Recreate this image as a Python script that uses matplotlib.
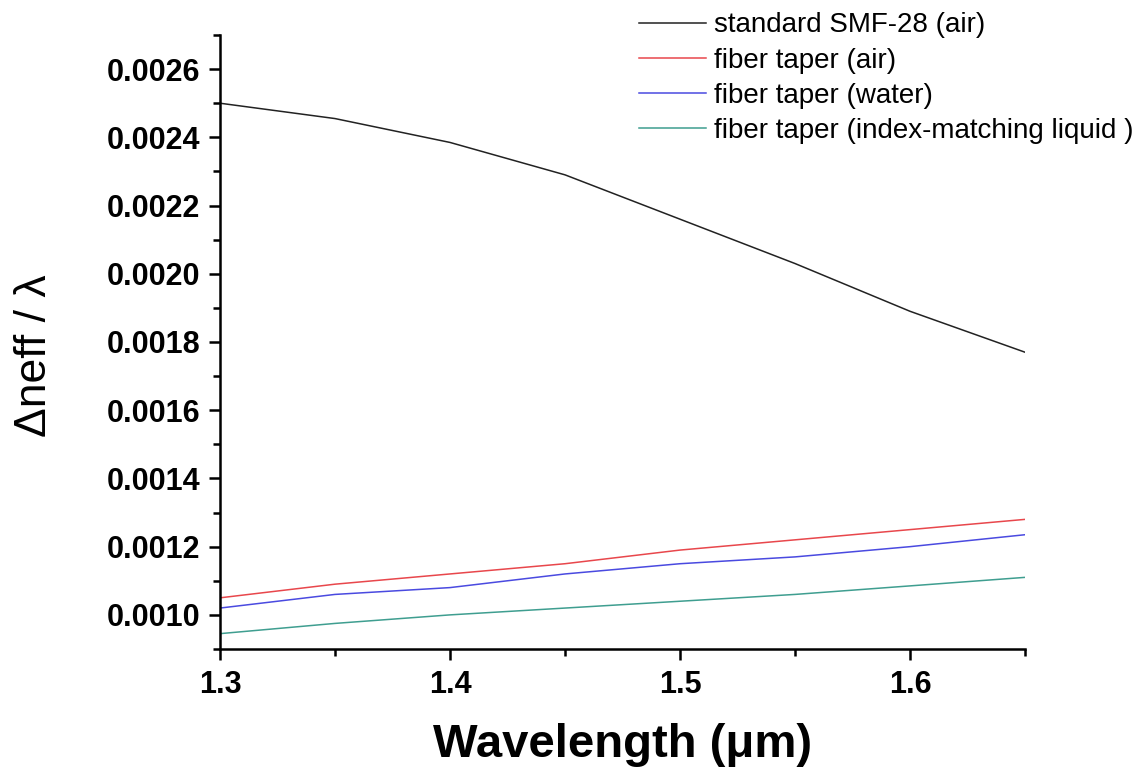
import matplotlib
matplotlib.use("Agg")
import matplotlib.pyplot as plt
from matplotlib.ticker import MultipleLocator, FormatStrFormatter

plt.rcParams['font.family'] = ['Liberation Sans', 'DejaVu Sans']

wavelength = [1.30, 1.35, 1.40, 1.45, 1.50, 1.55, 1.60, 1.65]
smf28_air = [0.00250, 0.002455, 0.002385, 0.00229, 0.00216, 0.00203, 0.00189, 0.00177]
taper_air = [0.00105, 0.00109, 0.00112, 0.00115, 0.00119, 0.00122, 0.00125, 0.00128]
taper_water = [0.00102, 0.00106, 0.00108, 0.00112, 0.00115, 0.00117, 0.00120, 0.001235]
taper_iml = [0.000945, 0.000975, 0.00100, 0.00102, 0.00104, 0.00106, 0.001085, 0.00111]

labels = ["standard SMF-28 (air)", "fiber taper (air)", "fiber taper (water)",
          "fiber taper (index-matching liquid )"]
colors = ["#222222", "#e8474c", "#4a4ae0", "#3f9e90"]

fig = plt.figure(figsize=(11.48, 7.74), dpi=100)
ax = fig.add_axes([0.1916, 0.1615, 0.7013, 0.7933])

for ys, lab, c in zip([smf28_air, taper_air, taper_water, taper_iml], labels, colors):
    ax.plot(wavelength, ys, color=c, lw=1.1, label=lab)

ax.set_xlim(1.3, 1.65)
ax.set_ylim(0.0009, 0.0027)
ax.xaxis.set_major_locator(MultipleLocator(0.1))
ax.xaxis.set_minor_locator(MultipleLocator(0.05))
ax.yaxis.set_major_locator(MultipleLocator(0.0002))
ax.yaxis.set_minor_locator(MultipleLocator(0.0001))
ax.xaxis.set_major_formatter(FormatStrFormatter('%.1f'))
ax.yaxis.set_major_formatter(FormatStrFormatter('%.4f'))

for side in ['top', 'right']:
    ax.spines[side].set_visible(False)
for side in ['left', 'bottom']:
    ax.spines[side].set_linewidth(1.8)

ax.tick_params(which='major', direction='out', length=8, width=1.8, labelsize=22)
ax.tick_params(axis='x', which='major', pad=7)
ax.tick_params(axis='y', which='major', pad=6)
ax.tick_params(which='minor', direction='out', length=5, width=1.8)
for t in ax.get_xticklabels() + ax.get_yticklabels():
    t.set_fontweight('bold')

ax.set_xlabel("Wavelength (\u03bcm)", fontsize=34, fontweight='bold')
ax.xaxis.set_label_coords(0.5006, -0.121)
ax.set_ylabel("\u0394neff / \u03bb", fontsize=32)
ax.yaxis.set_label_coords(-0.205, 0.477)

fig.legend(loc='upper left', bbox_to_anchor=(0.5566, 0.984), frameon=False,
           fontsize=20, handlelength=2.4, handletextpad=0.3, labelspacing=0.33,
           borderpad=0, borderaxespad=0)

fig.savefig("out.png", dpi=100)
